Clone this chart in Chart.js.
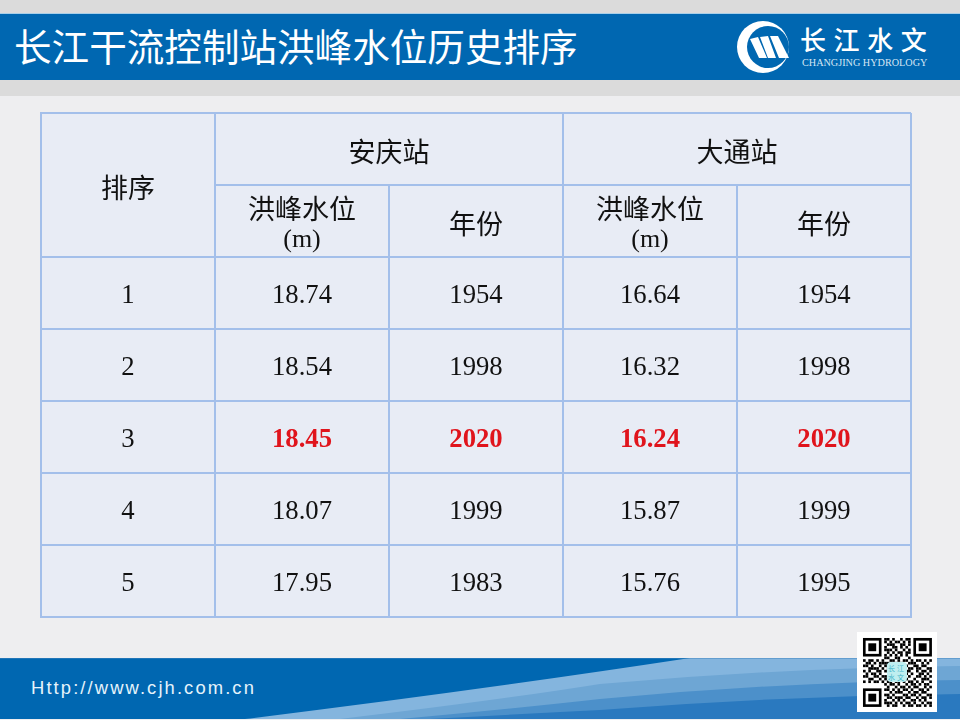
<!DOCTYPE html>
<html>
<head>
<meta charset="utf-8">
<title>长江干流控制站洪峰水位历史排序</title>
<script src="https://cdnjs.cloudflare.com/ajax/libs/Chart.js/4.4.1/chart.umd.js"></script>
<style>
	html, body { margin: 0; padding: 0; width: 960px; height: 720px; overflow: hidden; background: #eeeef0; }
	div, svg, canvas { position: absolute; }
	#topGray { left: 0; top: 0; width: 960px; height: 96px; background: #dbdbdb; }
	#topBand { left: 0; top: 13px; width: 960px; height: 67px; background: #0067b1; border-top: 1px solid #a9cfe8; box-sizing: border-box; }
	#title { left: 14px; top: 19px; color: #fff; font: 37.6px/52px "Noto Sans CJK SC", sans-serif; white-space: nowrap; }
	#logoCn { left: 800px; top: 22px; color: #fff; font: 500 26px/34px "Noto Sans CJK SC", sans-serif; letter-spacing: 7.6px; white-space: nowrap; }
	#logoEn { left: 802px; top: 56px; color: #d5e6f4; font: 10.2px/14px "Liberation Serif", serif; white-space: nowrap; }
	#url { left: 31px; top: 677px; color: #e6f3fb; font: 18.4px/22px "Liberation Sans", sans-serif; letter-spacing: 2.1px; white-space: nowrap; }
	#qr { left: 857px; top: 632px; width: 80px; height: 80px; background: #fff; }
</style>
</head>
<body>
<div id="topGray"></div>
<div id="topBand"></div>
<div id="title">长江干流控制站洪峰水位历史排序</div>
<svg id="logo" style="left:730px;top:15px" width="70" height="64" viewBox="0 0 70 64">
	<circle cx="33" cy="32" r="26" fill="#fff"/>
	<circle cx="38" cy="32" r="21" fill="#0067b1"/>
	<path d="M20,24 L28,22 L37,43 L29,43 Z M30,22 L38,21 L46,43 L38,43 Z M40,21 L48,21 L59,43 L49,43 Z" fill="#fff"/>
</svg>
<div id="logoCn">长江水文</div>
<div id="logoEn">CHANGJING HYDROLOGY</div>
<svg id="footer" style="left:0;top:658px" width="960" height="62" viewBox="0 0 960 62">
	<rect width="960" height="61" fill="#0067b1"/>
	<path d="M245,61 Q480,32 690,0 L960,0 L960,61 Z" fill="#84b5de"/>
	<path d="M340,61 Q500,42 600,26 Q780,10 960,8 L960,61 Z" fill="#6ea6d4"/>
	<path d="M400,61 Q520,50 600,41 Q780,24 960,22 L960,61 Z" fill="#4c90ca"/>
	<path d="M430,61 Q520,56 600,52 Q780,38 960,36 L960,61 Z" fill="#2a79bf"/>
	<rect y="0" width="960" height="1" fill="#3f86c0" opacity="0.5"/>
</svg>
<div id="url">Http://www.cjh.com.cn</div>
<div id="qr"></div>
<canvas id="tableChart" width="960" height="720" style="left:0;top:0"></canvas>

<script>
	// table values, one list per column
	var ranks = [1, 2, 3, 4, 5];
	var anqingLevels = [18.74, 18.54, 18.45, 18.07, 17.95];
	var anqingYears = [1954, 1998, 2020, 1999, 1983];
	var datongLevels = [16.64, 16.32, 16.24, 15.87, 15.76];
	var datongYears = [1954, 1998, 2020, 1999, 1995];
	var highlightYear = 2020;

	var rankHeader = '排序';
	var stationHeaders = ['安庆站', '大通站'];
	var levelHeader = '洪峰水位';
	var levelUnit = '(m)';
	var yearHeader = '年份';

	var COLUMNS = 5;
	var ROWS = 7;
	var HEADER_ROWS = 2;
	var TEXT_SHIFT = 3;
	var CN_FONT = '27px "Noto Sans CJK SC", sans-serif';
	var NUM_FONT = '26.7px "Liberation Serif", serif';
	var NUM_BOLD = 'bold 26.7px "Liberation Serif", serif';
	var CELL_COLOR = '#e8ecf5';
	var LINE_COLOR = '#a3bfea';

	function buildCells() {
		var cells = [];
		cells.push({x: 0.5, y: 1, text: rankHeader, font: CN_FONT, color: '#111'});
		stationHeaders.forEach(function(name, i) {
			cells.push({x: 2 + i * 2, y: 0.5, text: name, font: CN_FONT, color: '#111'});
			cells.push({x: 1.5 + i * 2, y: 1.29, text: levelHeader, font: CN_FONT, color: '#111'});
			cells.push({x: 1.5 + i * 2, y: 1.72, text: levelUnit, font: '26px "Liberation Serif", serif', color: '#111'});
			cells.push({x: 2.5 + i * 2, y: 1.5, text: yearHeader, font: CN_FONT, color: '#111'});
		});
		ranks.forEach(function(rank, i) {
			var hot = anqingYears[i] === highlightYear;
			var y = HEADER_ROWS + i + 0.5;
			var font = hot ? NUM_BOLD : NUM_FONT;
			var color = hot ? '#e0141c' : '#111';
			cells.push({x: 0.5, y: y, text: String(rank), font: NUM_FONT, color: '#111'});
			cells.push({x: 1.5, y: y, text: anqingLevels[i].toFixed(2), font: font, color: color});
			cells.push({x: 2.5, y: y, text: String(anqingYears[i]), font: font, color: color});
			cells.push({x: 3.5, y: y, text: datongLevels[i].toFixed(2), font: font, color: color});
			cells.push({x: 4.5, y: y, text: String(datongYears[i]), font: font, color: color});
		});
		return cells;
	}

	// cell fill goes under the grid, merged headers get their inner lines covered
	var tablePlugin = {
		id: 'table',
		beforeDraw: function(chart) {
			var a = chart.chartArea;
			chart.ctx.fillStyle = CELL_COLOR;
			chart.ctx.fillRect(a.left, a.top, a.right - a.left, a.bottom - a.top);
		},
		beforeDatasetsDraw: function(chart) {
			var x = chart.scales.x, y = chart.scales.y, ctx = chart.ctx;
			ctx.fillStyle = CELL_COLOR;
			ctx.fillRect(x.getPixelForValue(0) + 1, y.getPixelForValue(1) - 2, x.getPixelForValue(1) - x.getPixelForValue(0) - 2, 4);
			[2, 4].forEach(function(col) {
				ctx.fillRect(x.getPixelForValue(col) - 2, y.getPixelForValue(0) + 1, 4, y.getPixelForValue(1) - y.getPixelForValue(0) - 2);
			});
		},
		afterDatasetsDraw: function(chart) {
			var ctx = chart.ctx;
			ctx.save();
			ctx.textAlign = 'center';
			ctx.textBaseline = 'middle';
			chart.data.datasets[0].data.forEach(function(cell) {
				ctx.font = cell.font;
				ctx.fillStyle = cell.color;
				ctx.fillText(cell.text, chart.scales.x.getPixelForValue(cell.x), chart.scales.y.getPixelForValue(cell.y) + TEXT_SHIFT);
			});
			ctx.restore();
		}
	};

	new Chart(document.getElementById('tableChart'), {
		type: 'scatter',
		data: { datasets: [{ data: buildCells(), pointRadius: 0, pointHoverRadius: 0 }] },
		plugins: [tablePlugin],
		options: {
			responsive: false,
			animation: false,
			devicePixelRatio: 1,
			layout: { padding: { left: 41, right: 49, top: 113, bottom: 103 } },
			plugins: { legend: { display: false }, tooltip: { enabled: false } },
			scales: {
				x: {
					type: 'linear', min: 0, max: COLUMNS,
					ticks: { display: false, stepSize: 1 },
					grid: { color: LINE_COLOR, drawTicks: false, lineWidth: 2 },
					border: { color: LINE_COLOR, width: 2 }
				},
				y: {
					type: 'linear', min: 0, max: ROWS, reverse: true,
					ticks: { display: false, stepSize: 1 },
					grid: { color: LINE_COLOR, drawTicks: false, lineWidth: 2 },
					border: { color: LINE_COLOR, width: 2 }
				}
			}
		}
	});

	// qr badge, just the look of it
	var qrRows = [
		'00000000110100101100000000',
		'00000000101011010100000000',
		'00000000011100110100000000',
		'00000000100110101000000000',
		'00000000111010010100000000',
		'00000000010101101100000000',
		'00000000101010101000000000',
		'00000000110011000100000000',
		'10110101001101011010110101',
		'01101011110010100111001010',
		'11010010101100111001101100',
		'00111101010110010110110011',
		'10100110110100101100101101',
		'01011010001101011010011010',
		'11001101110100110100110101',
		'00110010101001011001001110',
		'10101101011011010110101001',
		'00000000101101001011010110',
		'00000000010010110101100101',
		'00000000110101011010011010',
		'00000000001011100101101100',
		'00000000110100011011010011',
		'00000000011011101100101101',
		'00000000100101010011010100',
		'00000000111010101101001011',
		'00000000010110010110110101'
	];
	var qrBox = document.getElementById('qr');
	var cellSize = 2.65;
	var svg = '<svg width="80" height="80" viewBox="0 0 80 80" style="left:0;top:0">';
	qrRows.forEach(function(row, r) {
		row.split('').forEach(function(bit, c) {
			if (bit === '1') svg += '<rect x="' + (6 + c * cellSize) + '" y="' + (6 + r * cellSize) + '" width="' + cellSize + '" height="' + cellSize + '"/>';
		});
	});
	[[6, 6], [56.4, 6], [6, 56.4]].forEach(function(p) {
		svg += '<rect x="' + (p[0] + 1.3) + '" y="' + (p[1] + 1.3) + '" width="15.9" height="15.9" fill="none" stroke="#000" stroke-width="2.65"/>';
		svg += '<rect x="' + (p[0] + 5.3) + '" y="' + (p[1] + 5.3) + '" width="7.9" height="7.9"/>';
	});
	svg += '<rect x="30" y="30" width="20" height="20" rx="4" fill="#bfeef0"/>';
	svg += '<text x="40" y="39" text-anchor="middle" font-family="Noto Sans CJK SC" font-size="7" fill="#3fb4c8" letter-spacing="2">长江</text>';
	svg += '<text x="40" y="48" text-anchor="middle" font-family="Noto Sans CJK SC" font-size="7" fill="#3fb4c8" letter-spacing="2">水文</text>';
	svg += '</svg>';
	qrBox.innerHTML = svg;
</script>
</body>
</html>
